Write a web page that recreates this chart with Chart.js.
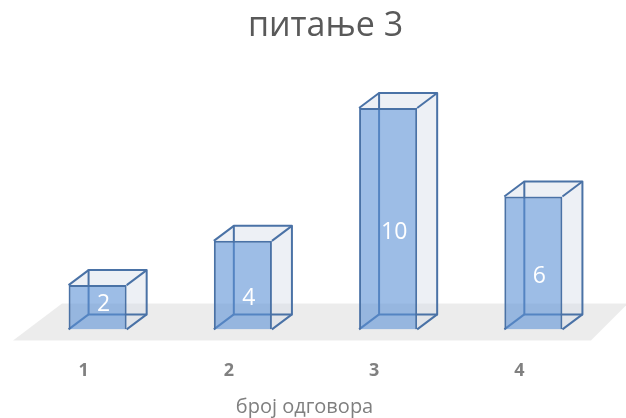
<!DOCTYPE html>
<html>
<head>
<meta charset="utf-8">
<title>питање 3</title>
<script src="https://cdn.jsdelivr.net/npm/chart.js@4.4.1/dist/chart.umd.min.js"></script>
<style>
  html, body { margin: 0; padding: 0; background: #ffffff; }
  #wrap { width: 626px; height: 418px; }
</style>
</head>
<body>
<div id="wrap"><canvas id="answersChart" width="626" height="418"></canvas></div>
<script>
// answers per option
const answerLabels = ['1', '2', '3', '4'];
const answerCounts = [2, 4, 10, 6];
const countRange = [0, 10];

const chartTitle = 'питање 3';
const axisTitle = 'број одговора';

const EDGE = '#4a72a6';
const FRONT = 'rgba(91,145,213,0.6)';
const SIDE = 'rgba(214,221,232,0.45)';
const FLOOR = 'rgba(200,200,200,0.35)';
const FONT = '"Open Sans", sans-serif';
const DEPTH_X = 20;
const DEPTH_Y = -15;

function barBoxes(chart) {
    const meta = chart.getDatasetMeta(0);
    return meta.data.map((bar, i) => {
        const p = bar.getProps(['x', 'y', 'base', 'width'], true);
        return { left: p.x - p.width / 2, right: p.x + p.width / 2, top: p.y, base: p.base, cx: p.x, value: answerCounts[i] };
    });
}

// grey floor, side faces and the hidden back edges of each box
const boxBack = {
    id: 'boxBack',
    beforeDatasetsDraw(chart) {
        const ctx = chart.ctx;
        const area = chart.chartArea;
        const base = chart.scales.y.getPixelForValue(countRange[0]);

        ctx.save();
        ctx.fillStyle = FLOOR;
        ctx.beginPath();
        ctx.moveTo(area.left - 12, base + 11);
        ctx.lineTo(area.right - 15, base + 11);
        ctx.lineTo(area.right + 22, base - 26);
        ctx.lineTo(area.left + 37, base - 26);
        ctx.closePath();
        ctx.fill();

        barBoxes(chart).forEach(b => {
            const dx = DEPTH_X, dy = DEPTH_Y;
            // right face
            ctx.fillStyle = SIDE;
            ctx.beginPath();
            ctx.moveTo(b.right, b.top);
            ctx.lineTo(b.right + dx, b.top + dy);
            ctx.lineTo(b.right + dx, b.base + dy);
            ctx.lineTo(b.right, b.base);
            ctx.closePath();
            ctx.fill();
            // top face
            ctx.beginPath();
            ctx.moveTo(b.left, b.top);
            ctx.lineTo(b.left + dx, b.top + dy);
            ctx.lineTo(b.right + dx, b.top + dy);
            ctx.lineTo(b.right, b.top);
            ctx.closePath();
            ctx.fill();

            ctx.strokeStyle = EDGE;
            ctx.lineWidth = 2;
            ctx.lineJoin = 'round';
            ctx.strokeRect(b.left + dx, b.top + dy, b.right - b.left, b.base - b.top);
            ctx.beginPath();
            [[b.left, b.top], [b.right, b.top], [b.right, b.base], [b.left, b.base]].forEach(([x, y]) => {
                ctx.moveTo(x, y);
                ctx.lineTo(x + dx, y + dy);
            });
            ctx.stroke();
        });
        ctx.restore();
    },
    afterDatasetsDraw(chart) {
        const ctx = chart.ctx;
        ctx.save();
        ctx.fillStyle = '#ffffff';
        ctx.font = '23px ' + FONT;
        ctx.textAlign = 'center';
        ctx.textBaseline = 'alphabetic';
        barBoxes(chart).forEach(b => {
            const mid = Math.min((b.top + b.base) / 2 + 12, b.base - 26);
            ctx.fillText(String(b.value), b.cx + 6, mid + 8);
        });
        ctx.restore();
    },
    // chart title and axis caption, both shifted to follow the tilted floor
    afterDraw(chart) {
        const ctx = chart.ctx;
        const area = chart.chartArea;
        const cx = (area.left + area.right) / 2;
        ctx.save();
        ctx.textAlign = 'center';
        ctx.textBaseline = 'alphabetic';
        ctx.fillStyle = '#595959';
        ctx.font = '34px ' + FONT;
        ctx.fillText(chartTitle, cx + 10, 36);
        ctx.fillStyle = '#7f7f7f';
        ctx.font = '20px ' + FONT;
        ctx.fillText(axisTitle, cx - 11, 413);
        ctx.restore();
    }
};

new Chart(document.getElementById('answersChart'), {
    type: 'bar',
    data: {
        labels: answerLabels,
        datasets: [{
            data: answerCounts,
            backgroundColor: FRONT,
            borderColor: EDGE,
            borderWidth: 2,
            categoryPercentage: 1,
            barPercentage: 0.4
        }]
    },
    options: {
        responsive: false,
        animation: false,
        devicePixelRatio: 1,
        layout: { padding: { left: 25, right: 20, top: 108, bottom: 6 } },
        plugins: {
            legend: { display: false },
            tooltip: { enabled: false },
            title: { display: false }
        },
        scales: {
            x: {
                grid: { display: false, drawTicks: false },
                border: { display: false },
                ticks: {
                    color: '#808080',
                    font: { family: FONT, size: 18, weight: 'bold' },
                    padding: 30.5,
                    labelOffset: -14
                }
            },
            y: {
                display: false,
                min: countRange[0],
                max: countRange[1]
            }
        }
    },
    plugins: [boxBack]
});
</script>
</body>
</html>
